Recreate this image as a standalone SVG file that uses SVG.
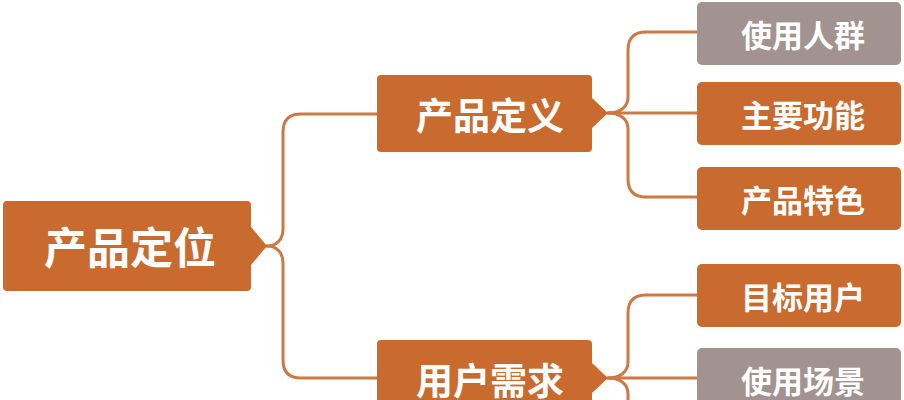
<svg xmlns="http://www.w3.org/2000/svg" width="904" height="400" viewBox="0 0 904 400">
<style>
.o{fill:#C96A2E}
.g{fill:#A29290}
.t{fill:#FFFFFF;font-family:"Noto Sans CJK SC","Noto Sans",sans-serif;font-weight:700;text-anchor:middle;dominant-baseline:central}
.c{fill:none;stroke:#CB7A45;stroke-width:3;stroke-linecap:round}
</style>
<rect width="904" height="400" fill="#FFFFFF"/>
<g id="connectors">
<path class="c" d="M267,246 C277,246 283,239 283,229 V132 Q283,114 301,114 H378"/>
<path class="c" d="M267,246 C277,246 283,253 283,263 V360 Q283,378 301,378 H378"/>
<path class="c" d="M608,113 C620,113 628,107 628,97 V50 Q628,32 646,32 H698"/>
<path class="c" d="M608,113 H698"/>
<path class="c" d="M608,113 C620,113 628,119 628,129 V179 Q628,197 646,197 H698"/>
<path class="c" d="M608,378 C620,378 628,372 628,362 V313 Q628,295 646,295 H698"/>
<path class="c" d="M608,378 H698"/>
<path class="c" d="M608,378 C620,378 628,384 628,394 V420"/>
</g>
<g id="root">
<path class="o" d="M7,201 H247 Q251,201 251,205 V227 L267,246 L251,265 V287 Q251,291 247,291 H7 Q3,291 3,287 V205 Q3,201 7,201 Z"/>
<text class="t" x="130" y="245" font-size="43">产品定位</text>
</g>
<g id="def">
<path class="o" d="M381,75 H588 Q592,75 592,79 V98 L608,113 L592,128 V148 Q592,152 588,152 H381 Q377,152 377,148 V79 Q377,75 381,75 Z"/>
<text class="t" x="490" y="114" font-size="37">产品定义</text>
</g>
<g id="need">
<path class="o" d="M381,340 H588 Q592,340 592,344 V363 L608,378 L592,393 V413 Q592,417 588,417 H381 Q377,417 377,413 V344 Q377,340 381,340 Z"/>
<text class="t" x="490" y="379" font-size="37">用户需求</text>
</g>
<g id="n1">
<rect class="g" x="697" y="2" width="204" height="63" rx="5"/>
<text class="t" x="803" y="33" font-size="31">使用人群</text>
</g>
<g id="n2">
<rect class="o" x="697" y="82" width="204" height="63" rx="5"/>
<text class="t" x="803" y="113" font-size="31">主要功能</text>
</g>
<g id="n3">
<rect class="o" x="697" y="167" width="204" height="63" rx="5"/>
<text class="t" x="803" y="198" font-size="31">产品特色</text>
</g>
<g id="n4">
<rect class="o" x="697" y="264" width="204" height="63" rx="5"/>
<text class="t" x="803" y="295" font-size="31">目标用户</text>
</g>
<g id="n5">
<rect class="g" x="697" y="348" width="204" height="63" rx="5"/>
<text class="t" x="803" y="379" font-size="31">使用场景</text>
</g>
</svg>
